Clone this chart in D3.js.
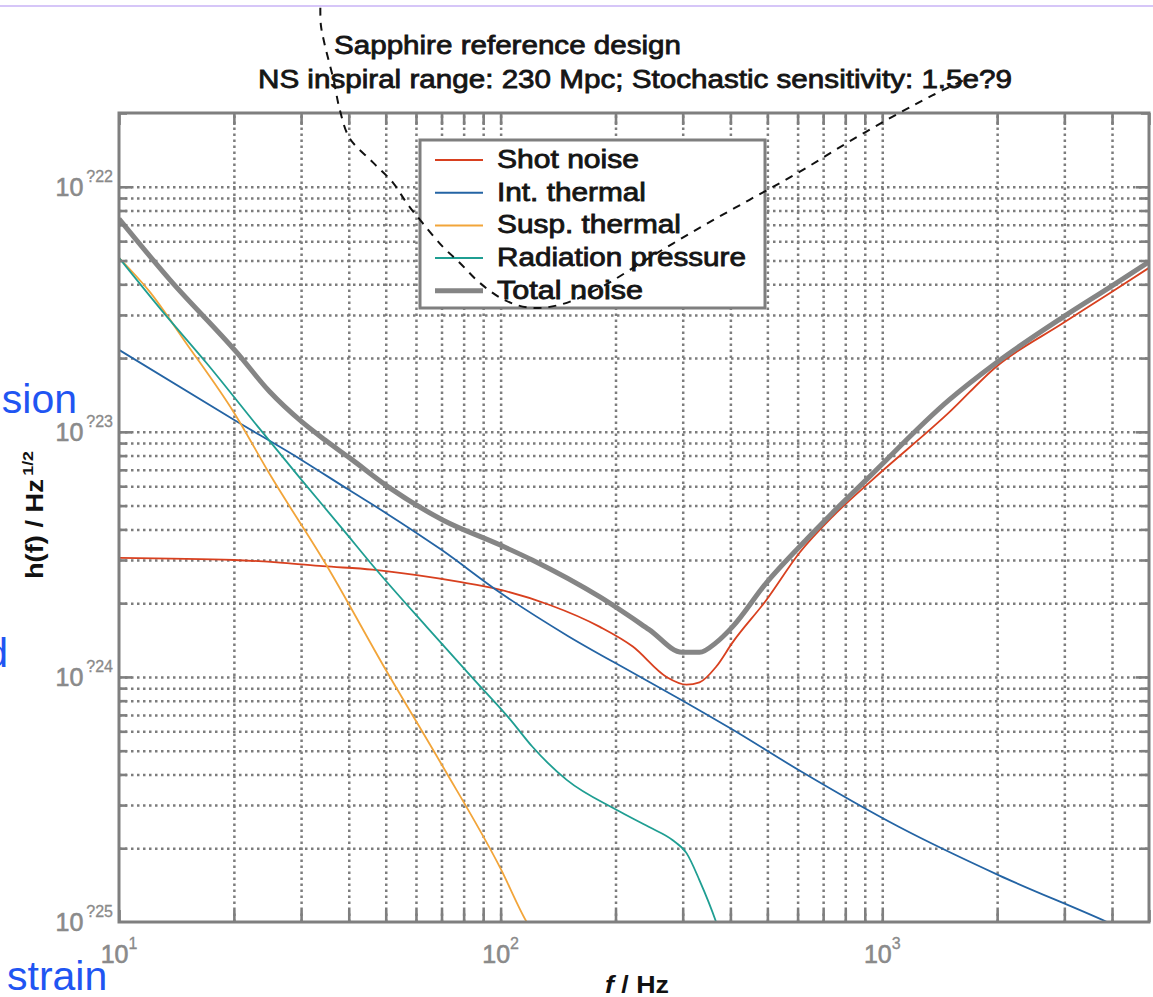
<!DOCTYPE html>
<html>
<head>
<meta charset="utf-8">
<script src="https://cdn.jsdelivr.net/npm/d3@7"></script>
<style>
    body { margin: 0; background: #fff; }
    svg { display: block; font-family: "Liberation Sans", Arial, sans-serif; }
    .grid line { stroke: #7c7c7c; stroke-width: 2.5; stroke-dasharray: 2.5, 3.5; }
    .grid path { display: none; }
    .ticks path { display: none; }
    .ticks line { stroke: #7f7f7f; stroke-width: 2.6; }
</style>
</head>
<body>
<div id="chart"></div>
<script>
// values (f in Hz, strain in 1/sqrt(Hz))
var shotFreq  = [10, 20, 26.9, 34.2, 46.2, 60.3, 78.1, 99.4, 134, 182, 222, 272, 307, 332, 367, 405, 497, 607, 740, 942, 1497, 1986, 2957, 4000, 5000];
var shotNoise = [3.06e-24, 3.0e-24, 2.92e-24, 2.83e-24, 2.74e-24, 2.6e-24, 2.44e-24, 2.27e-24, 1.97e-24, 1.6e-24, 1.33e-24, 1.0e-24, 9.3e-25, 9.5e-25, 1.1e-24, 1.38e-24, 2.06e-24, 3.21e-24, 4.5e-24, 6.37e-24, 1.2e-23, 1.84e-23, 2.76e-23, 3.73e-23, 4.67e-23];

var intFreq    = [10, 20, 30, 40, 50, 70, 100, 150, 222, 300, 405, 607, 1108, 2023, 3882, 4500];
var intThermal = [2.16e-23, 1.12e-23, 7.7e-24, 5.8e-24, 4.67e-24, 3.3e-24, 2.2e-24, 1.47e-24, 1.04e-24, 8.0e-25, 6.1e-25, 4.15e-25, 2.44e-25, 1.55e-25, 1.0e-25, 9.0e-26];

var suspFreq    = [10, 12, 15, 20, 25, 35, 50, 70, 100, 117, 125];
var suspThermal = [5.13e-23, 3.75e-23, 2.3e-23, 1.2e-23, 6.6e-24, 2.85e-24, 1.07e-24, 4.4e-25, 1.65e-25, 1.0e-25, 8.5e-26];

var radFreq     = [10, 13, 17, 23, 30, 38.6, 47.3, 64, 86.5, 106, 121, 149, 201, 245, 282, 307, 332, 367, 380];
var radPressure = [5.13e-23, 3.1e-23, 1.9e-23, 1.06e-23, 6.4e-24, 4.0e-24, 2.73e-24, 1.6e-24, 9.5e-25, 6.7e-25, 5.2e-25, 3.8e-25, 2.87e-25, 2.44e-25, 2.16e-25, 1.91e-25, 1.48e-25, 1.0e-25, 8.5e-26];

var totalFreq  = [10, 13.6, 20.4, 24.8, 30.1, 34.6, 40.2, 51.2, 70.5, 99.4, 121, 182, 245, 299, 332, 367, 405, 497, 607, 740, 908, 1497, 1986, 2957, 4000, 5000];
var totalNoise = [7.4e-23, 4.17e-23, 2.1e-23, 1.46e-23, 1.1e-23, 9.28e-24, 7.83e-24, 5.91e-24, 4.37e-24, 3.46e-24, 3.0e-24, 2.12e-24, 1.56e-24, 1.26e-24, 1.26e-24, 1.38e-24, 1.6e-24, 2.42e-24, 3.4e-24, 4.67e-24, 6.37e-24, 1.35e-23, 1.91e-23, 2.92e-23, 3.94e-23, 4.94e-23];

// dashed reference curve (drawn past the frame, as in the picture)
var refFreq  = [33.7, 33.8, 34.6, 36.5, 37.9, 40.2, 46.2, 52.2, 56.7, 62.5, 70.5, 78.1, 88.1, 102, 119, 143, 182, 245, 332, 449, 607, 820, 1108, 1368, 1640];
var refNoise = [5.38e-22, 4.58e-22, 3.8e-22, 2.73e-22, 2.06e-22, 1.58e-22, 1.26e-22, 1.04e-22, 8.6e-23, 7.1e-23, 5.7e-23, 4.9e-23, 4.06e-23, 3.46e-23, 3.21e-23, 3.3e-23, 3.87e-23, 5.13e-23, 6.8e-23, 8.85e-23, 1.15e-22, 1.53e-22, 2.0e-22, 2.38e-22, 2.73e-22];

var seriesNames  = ["Shot noise", "Int. thermal", "Susp. thermal", "Radiation pressure", "Total noise"];
var seriesColors = ["#d8401f", "#2464a4", "#f2a53a", "#1f9e92", "#858585"];

var xMajorTicks  = [10, 100, 1000];
var xTickLabels  = ["1", "2", "3"];
var yMajorTicks  = [1e-22, 1e-23, 1e-24, 1e-25];
var yTickLabels  = ["?22", "?23", "?24", "?25"];

var titleLines = ["Sapphire reference design", "NS inspiral range: 230 Mpc; Stochastic sensitivity: 1.5e?9"];

var svg,
    layout = {
        "width": 1153,
        "height": 997,
        "left": 119, "right": 1149, "top": 113, "bottom": 922
    };

svg = d3.select("#chart").append("svg")
    .attr("width", layout.width)
    .attr("height", layout.height);

var x = d3.scaleLog().domain([10, 5000]).range([layout.left, layout.right]);
var y = d3.scaleLog().domain([1e-25, 2e-22]).range([layout.bottom, layout.top]);

function isMajor(v) {
    var l = Math.log10(v);
    return Math.abs(l - Math.round(l)) < 1e-6;
}

// slide border line at the very top
svg.append("line")
    .attr("x1", 0).attr("x2", layout.width)
    .attr("y1", 6).attr("y2", 6)
    .attr("stroke", "#d6c6f8").attr("stroke-width", 2);

// grid
var xGridVals = x.ticks().filter(v => v > 10 && v < 5000);
var yGridVals = y.ticks().filter(v => v > 1.01e-25 && v < 1.99e-22);

svg.append("g")
    .attr("class", "grid")
    .attr("transform", "translate(0," + layout.bottom + ")")
    .call(d3.axisBottom(x).tickValues(xGridVals).tickSize(-(layout.bottom - layout.top)).tickFormat(""));

svg.append("g")
    .attr("class", "grid")
    .attr("transform", "translate(" + layout.left + ",0)")
    .call(d3.axisLeft(y).tickValues(yGridVals).tickSize(-(layout.right - layout.left)).tickFormat(""));

// curves
svg.append("clipPath").attr("id", "plotclip")
    .append("rect")
    .attr("x", layout.left).attr("y", layout.top)
    .attr("width", layout.right - layout.left)
    .attr("height", layout.bottom - layout.top);

var line = d3.line()
    .x(d => x(d[0]))
    .y(d => y(d[1]))
    .curve(d3.curveMonotoneX);

var curves = [
    {f: shotFreq, h: shotNoise, w: 1.8},
    {f: intFreq, h: intThermal, w: 1.8},
    {f: suspFreq, h: suspThermal, w: 1.8},
    {f: radFreq, h: radPressure, w: 1.8},
    {f: totalFreq, h: totalNoise, w: 5}
];

var plotG = svg.append("g").attr("clip-path", "url(#plotclip)");
plotG.selectAll("path")
    .data(curves)
    .enter()
    .append("path")
    .attr("d", d => line(d.f.map((f, i) => [f, d.h[i]])))
    .attr("fill", "none")
    .attr("stroke", (d, i) => seriesColors[i])
    .attr("stroke-width", d => d.w)
    .attr("stroke-linejoin", "round");

// frame and inward ticks on all four sides
var xTickVals = x.ticks();
var yTickVals = y.ticks();

svg.append("g").attr("class", "ticks")
    .attr("transform", "translate(0," + layout.bottom + ")")
    .call(d3.axisBottom(x).tickValues(xTickVals).tickSize(-12).tickFormat(""));
svg.append("g").attr("class", "ticks")
    .attr("transform", "translate(0," + layout.top + ")")
    .call(d3.axisTop(x).tickValues(xTickVals).tickSize(-12).tickFormat(""));

var yl = svg.append("g").attr("class", "ticks")
    .attr("transform", "translate(" + layout.left + ",0)")
    .call(d3.axisLeft(y).tickValues(yTickVals).tickSize(-8).tickFormat(""));
yl.selectAll(".tick line").attr("x2", d => isMajor(d) ? 13 : 8);
var yr = svg.append("g").attr("class", "ticks")
    .attr("transform", "translate(" + layout.right + ",0)")
    .call(d3.axisRight(y).tickValues(yTickVals).tickSize(-8).tickFormat(""));
yr.selectAll(".tick line").attr("x2", d => isMajor(d) ? -13 : -8);

svg.append("rect")
    .attr("x", layout.left).attr("y", layout.top)
    .attr("width", layout.right - layout.left)
    .attr("height", layout.bottom - layout.top)
    .attr("fill", "none")
    .attr("stroke", "#7f7f7f")
    .attr("stroke-width", 3);

// tick labels
var xl = svg.selectAll(".xlab")
    .data(xMajorTicks)
    .enter()
    .append("text")
    .attr("class", "xlab")
    .attr("x", d => x(d))
    .attr("y", 963)
    .attr("text-anchor", "middle")
    .attr("fill", "#8a8a8a")
    .attr("stroke", "#8a8a8a").attr("stroke-width", 0.6)
    .attr("font-size", 25);
xl.append("tspan").text("10");
xl.append("tspan").attr("font-size", 16).attr("stroke-width", 0.3).attr("dy", -14).text((d, i) => xTickLabels[i]);

var ylab = svg.selectAll(".ylab")
    .data(yMajorTicks)
    .enter()
    .append("text")
    .attr("class", "ylab")
    .attr("x", 113)
    .attr("y", d => y(d) + 9)
    .attr("text-anchor", "end")
    .attr("fill", "#8a8a8a")
    .attr("stroke", "#8a8a8a").attr("stroke-width", 0.6)
    .attr("font-size", 25);
ylab.append("tspan").text("10");
ylab.append("tspan").attr("font-size", 16).attr("stroke-width", 0.3).attr("dx", 3).attr("dy", -14).text((d, i) => yTickLabels[i]);

// axis titles
var xt = svg.append("text")
    .attr("x", 637).attr("y", 993)
    .attr("text-anchor", "middle")
    .attr("font-size", 23).attr("font-weight", "bold")
    .attr("fill", "#111")
    .attr("textLength", 64).attr("lengthAdjust", "spacingAndGlyphs");
xt.append("tspan").attr("font-style", "italic").text("f");
xt.append("tspan").text(" / Hz");

var yt = svg.append("text")
    .attr("transform", "translate(43,515) rotate(-90)")
    .attr("text-anchor", "middle")
    .attr("font-size", 23).attr("font-weight", "bold")
    .attr("fill", "#111")
    .attr("textLength", 128).attr("lengthAdjust", "spacingAndGlyphs");
yt.append("tspan").text("h(f) / Hz");
yt.append("tspan").attr("font-size", 15).attr("dx", 3).attr("dy", -10).text("1/2");

// legend
var legend = svg.append("g");
legend.append("rect")
    .attr("x", 420).attr("y", 140)
    .attr("width", 345).attr("height", 168)
    .attr("fill", "#fff")
    .attr("stroke", "#7f7f7f")
    .attr("stroke-width", 3);

var legendWidths = [142, 149, 184, 249, 146];
var rows = legend.selectAll(".row")
    .data(seriesNames)
    .enter()
    .append("g")
    .attr("transform", (d, i) => "translate(0," + (160 + i * 32.7) + ")");
rows.append("line")
    .attr("x1", 435).attr("x2", 483)
    .attr("stroke", (d, i) => seriesColors[i])
    .attr("stroke-width", (d, i) => i == 4 ? 5 : 2);
rows.append("text")
    .attr("x", 497).attr("y", 8)
    .attr("font-size", 25)
    .attr("fill", "#151515")
    .attr("stroke", "#151515").attr("stroke-width", 0.8)
    .attr("textLength", (d, i) => legendWidths[i])
    .attr("lengthAdjust", "spacingAndGlyphs")
    .text(d => d);

// dashed reference curve on top, not clipped
svg.append("path")
    .attr("d", d3.line().x(d => x(d[0])).y(d => y(d[1])).curve(d3.curveCatmullRom)(refFreq.map((f, i) => [f, refNoise[i]])))
    .attr("fill", "none")
    .attr("stroke", "#111")
    .attr("stroke-width", 2)
    .attr("stroke-dasharray", "8,7");

// title
svg.selectAll(".title")
    .data(titleLines)
    .enter()
    .append("text")
    .attr("class", "title")
    .attr("x", (d, i) => i == 0 ? 334 : 258)
    .attr("y", (d, i) => i == 0 ? 54 : 88)
    .attr("font-size", 26)
    .attr("fill", "#151515")
    .attr("stroke", "#151515").attr("stroke-width", 0.8)
    .attr("textLength", (d, i) => i == 0 ? 347 : 754)
    .attr("lengthAdjust", "spacingAndGlyphs")
    .text(d => d);

// blue slide text cut off at the left edge
var slideText = [
    {t: "sion", x: 77, y: 413, a: "end"},
    {t: "d", x: 8, y: 667, a: "end"},
    {t: "strain", x: 7, y: 990, a: "start"}
];
svg.selectAll(".slide")
    .data(slideText)
    .enter()
    .append("text")
    .attr("class", "slide")
    .attr("x", d => d.x).attr("y", d => d.y)
    .attr("text-anchor", d => d.a)
    .attr("font-size", 41)
    .attr("fill", "#1f55f2")
    .text(d => d.t);
</script>
</body>
</html>
